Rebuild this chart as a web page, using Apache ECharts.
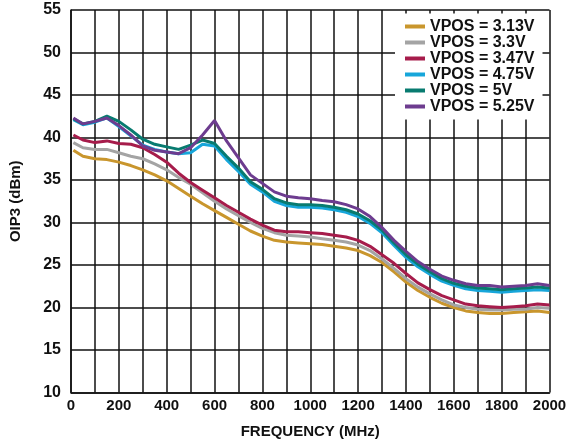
<!DOCTYPE html>
<html>
<head>
<meta charset="utf-8">
<script src="https://cdn.jsdelivr.net/npm/echarts@6/dist/echarts.min.js"></script>
<style>
  html, body { margin: 0; padding: 0; background: #fff; }
  #chart { width: 575px; height: 446px; }
</style>
</head>
<body>
<div id="chart"></div>
<script>
// frequency points (MHz)
var freq = [10, 50, 100, 150, 200, 250, 300, 350, 400, 450, 500, 550, 600, 650, 700, 750, 800, 850, 900, 950,
    1000, 1050, 1100, 1150, 1200, 1250, 1300, 1350, 1400, 1450, 1500, 1550, 1600, 1650, 1700, 1750, 1800, 1850, 1900, 1950, 2000];

// OIP3 (dBm) per supply voltage
var v313 = [38.5, 37.8, 37.5, 37.4, 37.1, 36.7, 36.2, 35.6, 34.9, 34.0, 33.1, 32.2, 31.4, 30.6, 29.8, 29.0, 28.4, 27.9, 27.7, 27.6,
    27.5, 27.4, 27.2, 27.0, 26.7, 26.1, 25.3, 24.2, 23.0, 22.0, 21.2, 20.5, 20.0, 19.6, 19.4, 19.3, 19.3, 19.4, 19.5, 19.6, 19.4];
var v33 = [39.4, 38.8, 38.6, 38.6, 38.2, 37.8, 37.5, 36.9, 36.2, 35.3, 34.5, 33.5, 32.5, 31.6, 30.8, 30.0, 29.3, 28.8, 28.5, 28.4,
    28.3, 28.1, 27.9, 27.7, 27.35, 26.7, 25.7, 24.6, 23.4, 22.4, 21.6, 20.9, 20.3, 20.0, 19.8, 19.7, 19.7, 19.8, 19.8, 20.0, 19.9];
var v347 = [40.3, 39.7, 39.4, 39.6, 39.3, 39.2, 38.8, 38.0, 37.1, 35.8, 34.7, 33.8, 32.9, 32.0, 31.2, 30.4, 29.7, 29.1, 28.9, 28.9,
    28.8, 28.7, 28.5, 28.3, 27.9, 27.2, 26.2, 25.2, 24.0, 22.9, 22.1, 21.4, 20.9, 20.4, 20.2, 20.1, 20.0, 20.1, 20.2, 20.4, 20.3];
var v475 = [42.1, 41.5, 41.8, 42.3, 41.3, 40.2, 39.1, 38.6, 38.3, 38.1, 38.2, 39.2, 39.0, 37.4, 36.0, 34.5, 33.6, 32.5, 32.0, 31.8,
    31.8, 31.7, 31.5, 31.2, 30.7, 29.9, 28.8, 27.3, 25.9, 24.8, 23.9, 23.1, 22.6, 22.2, 22.0, 21.9, 21.8, 21.9, 22.0, 22.1, 22.0];
var v5 = [42.2, 41.6, 41.9, 42.5, 41.9, 40.9, 39.8, 39.2, 38.9, 38.6, 39.1, 39.7, 39.3, 37.8, 36.4, 34.8, 33.9, 32.8, 32.3, 32.1,
    32.1, 32.0, 31.8, 31.5, 31.0, 30.2, 29.1, 27.6, 26.2, 25.1, 24.2, 23.4, 22.85, 22.5, 22.3, 22.2, 22.1, 22.2, 22.3, 22.4, 22.3];
var v525 = [42.3, 41.6, 41.9, 42.3, 41.4, 40.3, 39.0, 38.5, 38.3, 38.1, 38.8, 40.3, 42.0, 39.6, 37.6, 35.6, 34.6, 33.6, 33.1, 32.9,
    32.8, 32.6, 32.45, 32.1, 31.6, 30.7, 29.4, 27.9, 26.6, 25.4, 24.5, 23.7, 23.2, 22.8, 22.6, 22.6, 22.4, 22.5, 22.6, 22.8, 22.6];

var seriesNames = ['VPOS = 3.13V', 'VPOS = 3.3V', 'VPOS = 3.47V', 'VPOS = 4.75V', 'VPOS = 5V', 'VPOS = 5.25V'];
var seriesData = [v313, v33, v347, v475, v5, v525];
var seriesColors = ['#C9962D', '#A4A4A4', '#A61C4B', '#17A6DA', '#087B70', '#6D3C8F'];

var font = 'Liberation Sans, Arial, Helvetica, sans-serif';

function pairs(ys) {
    return freq.map(function(f, i) { return [f, ys[i]]; });
}

var chart = echarts.init(document.getElementById('chart'));

var option = {
    animation: false,
    grid: { left: 70, right: 25.5, top: 10, bottom: 53.5 },
    legend: {
        orient: 'vertical',
        left: 395,
        top: 13.5,
        width: 150,
        padding: [5, 8, 5, 10],
        backgroundColor: '#fff',
        itemGap: 0,
        itemWidth: 20,
        itemHeight: 4,
        icon: 'rect',
        textStyle: { fontFamily: font, fontWeight: 'bold', fontSize: 16, lineHeight: 16, color: '#111' },
        data: seriesNames
    },
    xAxis: {
        type: 'value',
        min: 0,
        max: 2000,
        interval: 100,
        name: 'FREQUENCY (MHz)',
        nameLocation: 'middle',
        nameGap: 32,
        nameTextStyle: { fontFamily: font, fontWeight: 'bold', fontSize: 15, color: '#111' },
        axisLine: { lineStyle: { color: '#111', width: 1.5 } },
        axisTick: { show: false },
        axisLabel: {
            fontFamily: font, fontWeight: 'bold', fontSize: 15, color: '#111', margin: 6,
            formatter: function(v) { return v % 200 === 0 ? String(v) : ''; }
        },
        splitLine: { show: true, lineStyle: { color: '#111', width: 1.5 } }
    },
    yAxis: {
        type: 'value',
        min: 10,
        max: 55,
        interval: 5,
        name: 'OIP3 (dBm)',
        nameLocation: 'middle',
        nameRotate: 90,
        nameGap: 48,
        nameTextStyle: { fontFamily: font, fontWeight: 'bold', fontSize: 15, color: '#111' },
        axisLine: { show: true, lineStyle: { color: '#111', width: 1.5 } },
        axisTick: { show: false },
        axisLabel: { fontFamily: font, fontWeight: 'bold', fontSize: 16, color: '#111', margin: 10 },
        splitLine: { show: true, lineStyle: { color: '#111', width: 1.5 } }
    },
    series: seriesNames.map(function(name, i) {
        return {
            name: name,
            type: 'line',
            data: pairs(seriesData[i]),
            showSymbol: false,
            symbol: 'none',
            color: seriesColors[i],
            lineStyle: { width: 3, color: seriesColors[i] },
            z: 2 + i
        };
    })
};

chart.setOption(option);
</script>
</body>
</html>
